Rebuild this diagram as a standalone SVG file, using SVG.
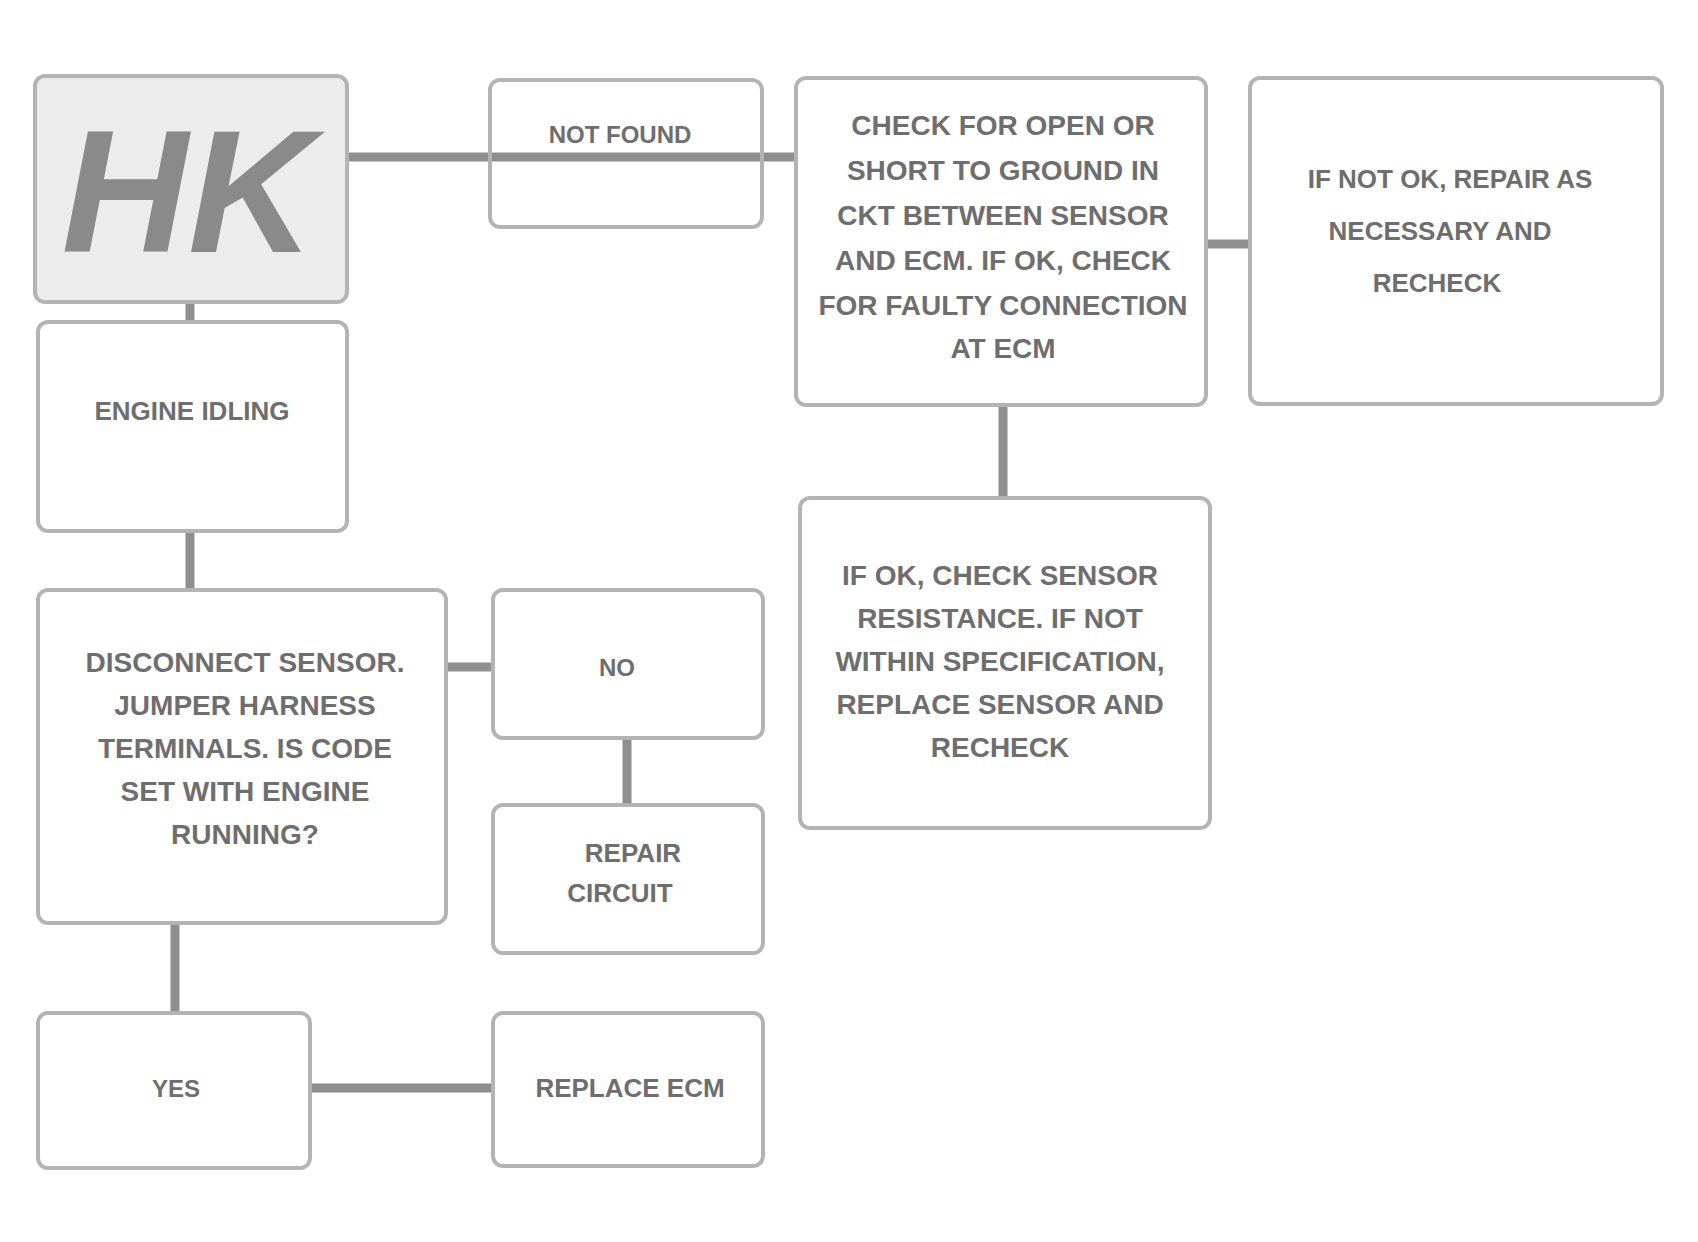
<svg xmlns="http://www.w3.org/2000/svg" width="1698" height="1242" viewBox="0 0 1698 1242">
<style>
.box{fill:#ffffff;stroke:#b4b4b4;stroke-width:4}
.shade{fill:#ececec}
.open{fill:none}
.conn line{stroke:#8f8f8f;stroke-width:9;stroke-linecap:butt}
text{font-family:"Liberation Sans",Arial,sans-serif;font-weight:bold;fill:#6e6e6e;text-anchor:middle}
.t28{font-size:28px}
.t26{font-size:26px}
.t24{font-size:24px}
.big{font-size:175px;font-style:italic;fill:#8a8a8a}
</style>
<rect width="1698" height="1242" fill="#ffffff"/>
<g id="connectors" class="conn">
<line x1="347" y1="157" x2="796" y2="157"/>
<line x1="190" y1="300" x2="190" y2="322"/>
<line x1="1206" y1="244" x2="1250" y2="244"/>
<line x1="1003" y1="405" x2="1003" y2="498"/>
<line x1="190" y1="531" x2="190" y2="590"/>
<line x1="446" y1="667" x2="493" y2="667"/>
<line x1="627" y1="738" x2="627" y2="805"/>
<line x1="175" y1="923" x2="175" y2="1013"/>
<line x1="310" y1="1088" x2="493" y2="1088"/>
</g>
<g id="nodeA">
<rect class="box shade" x="35" y="76" width="312" height="226" rx="10"/>
<text class="big" x="188" y="252">HK</text>
</g>
<g id="nodeB">
<rect class="box open" x="490" y="80" width="272" height="147" rx="10"/>
<text class="t24" x="620" y="143">NOT FOUND</text>
</g>
<g id="nodeC">
<rect class="box" x="796" y="78" width="410" height="327" rx="10"/>
<text class="t28" x="1003" y="135">CHECK FOR OPEN OR</text>
<text class="t28" x="1003" y="180">SHORT TO GROUND IN</text>
<text class="t28" x="1003" y="225">CKT BETWEEN SENSOR</text>
<text class="t28" x="1003" y="270">AND ECM. IF OK, CHECK</text>
<text class="t28" x="1003" y="315">FOR FAULTY CONNECTION</text>
<text class="t28" x="1003" y="358">AT ECM</text>
</g>
<g id="nodeD">
<rect class="box" x="1250" y="78" width="412" height="326" rx="10"/>
<text class="t26" x="1450" y="188">IF NOT OK, REPAIR AS</text>
<text class="t26" x="1440" y="240">NECESSARY AND</text>
<text class="t26" x="1437" y="292">RECHECK</text>
</g>
<g id="nodeE">
<rect class="box" x="800" y="498" width="410" height="330" rx="10"/>
<text class="t28" x="1000" y="585">IF OK, CHECK SENSOR</text>
<text class="t28" x="1000" y="628">RESISTANCE. IF NOT</text>
<text class="t28" x="1000" y="671">WITHIN SPECIFICATION,</text>
<text class="t28" x="1000" y="714">REPLACE SENSOR AND</text>
<text class="t28" x="1000" y="757">RECHECK</text>
</g>
<g id="nodeF">
<rect class="box" x="38" y="322" width="309" height="209" rx="10"/>
<text class="t26" x="192" y="420">ENGINE IDLING</text>
</g>
<g id="nodeG">
<rect class="box" x="38" y="590" width="408" height="333" rx="10"/>
<text class="t28" x="245" y="672">DISCONNECT SENSOR.</text>
<text class="t28" x="245" y="715">JUMPER HARNESS</text>
<text class="t28" x="245" y="758">TERMINALS. IS CODE</text>
<text class="t28" x="245" y="801">SET WITH ENGINE</text>
<text class="t28" x="245" y="844">RUNNING?</text>
</g>
<g id="nodeH">
<rect class="box" x="493" y="590" width="270" height="148" rx="10"/>
<text class="t24" x="617" y="676">NO</text>
</g>
<g id="nodeI">
<rect class="box" x="493" y="805" width="270" height="148" rx="10"/>
<text class="t26" x="633" y="862">REPAIR</text>
<text class="t26" x="620" y="902">CIRCUIT</text>
</g>
<g id="nodeJ">
<rect class="box" x="38" y="1013" width="272" height="155" rx="10"/>
<text class="t24" x="176" y="1097">YES</text>
</g>
<g id="nodeK">
<rect class="box" x="493" y="1013" width="270" height="153" rx="10"/>
<text class="t26" x="630" y="1097">REPLACE ECM</text>
</g>
</svg>
